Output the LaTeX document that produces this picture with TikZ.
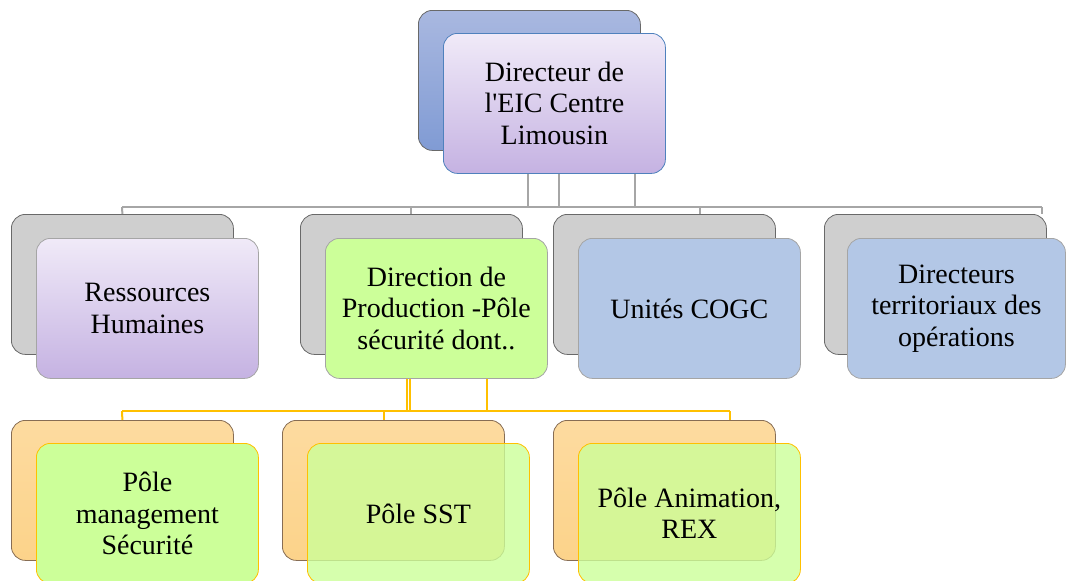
\documentclass[tikz,border=0pt]{standalone}
\usepackage{fontspec}
\setmainfont{Liberation Serif}
\usetikzlibrary{calc}

\definecolor{linkgrey}{RGB}{166,166,166}
\definecolor{linkgold}{RGB}{255,192,0}
\definecolor{edgedark}{RGB}{105,105,105}
\definecolor{edgelight}{RGB}{165,165,165}
\definecolor{edgeblue}{RGB}{79,129,189}
\definecolor{backgrey}{RGB}{207,207,207}
\definecolor{lavtop}{RGB}{240,234,248}
\definecolor{lavbot}{RGB}{197,178,226}
\definecolor{bluetop}{RGB}{169,184,224}
\definecolor{bluebot}{RGB}{128,155,212}
\definecolor{paleblue}{RGB}{179,199,230}
\definecolor{palegreen}{RGB}{204,255,153}
\definecolor{orangetop}{RGB}{253,219,160}
\definecolor{orangebot}{RGB}{252,211,138}

\tikzset{
	box/.style={rectangle, rounded corners=14pt, minimum width=222pt, minimum height=140pt,
		anchor=north west, inner sep=0pt, align=center, line width=0.8pt,
		font=\fontsize{28}{31.5}\selectfont},
	greyback/.style={box, draw=edgedark, fill=backgrey},
	blueback/.style={box, draw=edgedark, top color=bluetop, bottom color=bluebot},
	orangeback/.style={box, draw=edgedark!80!orange, top color=orangetop, bottom color=orangebot},
	lavfront/.style={box, top color=lavtop, bottom color=lavbot},
	greenfront/.style={box, draw=edgelight, fill=palegreen},
	bluefront/.style={box, draw=edgelight, fill=paleblue},
	polefront/.style={box, draw=linkgold, fill=palegreen},
	greylink/.style={draw=linkgrey, line width=2pt},
	goldlink/.style={draw=linkgold, line width=2pt}
}

\begin{document}
\begin{tikzpicture}[x=1pt, y=-1pt]
			%%%%% START %%%%%
			\useasboundingbox (0, 0) rectangle (1066, 581);
			
			% bus lines
			\coordinate (gbusl) at (122, 207);
			\coordinate (gbusr) at (1042, 207);
			\coordinate (gdrop) at (700, 207);
			\coordinate (ybusl) at (122, 411);
			\coordinate (ybusr) at (730, 411);
			\coordinate (ydrop) at (384, 411);
			
			% top
			\node[blueback] (dirback) at (418, 10) {};
			\node[lavfront, draw=edgeblue] (dir) at (443, 33) {Directeur de\\l\textquotesingle EIC Centre\\Limousin};
			
			% second row
			\node[greyback] (rhback) at (11, 214) {};
			\node[greyback] (prodback) at (300, 214) {};
			\node[greyback] (cogcback) at (553, 214) {};
			\node[greyback] (dtoback) at (824, 214) {};
			
			\draw[greylink] (gbusl) -- (gbusr);
			\foreach \x in {528, 559, 635}
				\draw[greylink] (dir.south -| \x, 0) -- (gbusl -| \x, 0);
			\draw[greylink] (gbusl) -- (rhback.north);
			\draw[greylink] (prodback.north |- gbusl) -- (prodback.north);
			\draw[greylink] (gdrop) -- (gdrop |- cogcback.north);
			\draw[greylink] (gbusr) -- (gbusr |- dtoback.north);
			
			\node[lavfront, draw=edgelight] (rh) at (36, 238) {Ressources\\Humaines};
			\node[greenfront] (prod) at (325, 238) {Direction de\\Production -Pôle\\sécurité dont..};
			\node[bluefront] (cogc) at (578, 238) {Unités COGC};
			\node[bluefront, minimum width=218pt] (dto) at (847, 238) {Directeurs\\territoriaux des\\opérations};
			
			% third row
			\node[orangeback] (mgtback) at (11, 420) {};
			\node[orangeback] (sstback) at (282, 420) {};
			\node[orangeback] (rexback) at (553, 420) {};
			
			\draw[goldlink] (ybusl) -- (ybusr);
			\foreach \x in {407, 410, 487}
				\draw[goldlink] (prod.south -| \x, 0) -- (ybusl -| \x, 0);
			\draw[goldlink] (ybusl) -- (mgtback.north);
			\draw[goldlink] (ydrop) -- (ydrop |- sstback.north);
			\draw[goldlink] (ybusr) -- (ybusr |- rexback.north);
			
			\node[polefront] (mgt) at (36, 443) {Pôle\\management\\Sécurité};
			\node[polefront, fill opacity=0.8, text opacity=1] (sst) at (307, 443) {Pôle SST};
			\node[polefront, fill opacity=0.8, text opacity=1] (rex) at (578, 443) {Pôle Animation,\\REX};
			
			%%%%% END %%%%%
		\end{tikzpicture}
\end{document}
